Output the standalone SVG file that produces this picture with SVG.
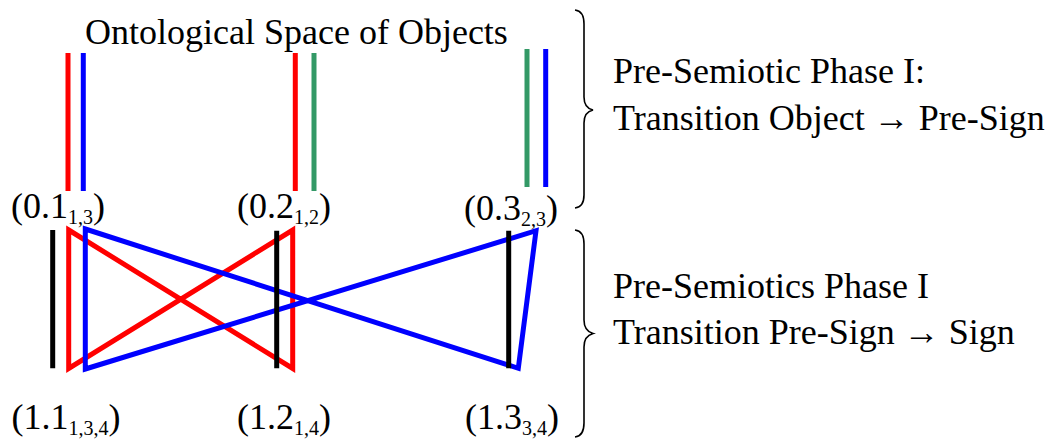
<svg xmlns="http://www.w3.org/2000/svg" width="1054" height="443" viewBox="0 0 1054 443">
<style>
text{font-family:"Liberation Serif","DejaVu Serif",serif;font-size:36px;fill:#000}
.sub{font-size:20px}
.ln{fill:none;stroke-width:5;stroke-linecap:butt;stroke-linejoin:miter}
.r{stroke:#FF0000}
.b{stroke:#0000FF}
.g{stroke:#339966}
.k{stroke:#000}
.brace{fill:none;stroke:#000;stroke-width:1.6}
</style>
<rect width="1054" height="443" fill="#fff"/>
<g id="title"><text x="85" y="44">Ontological Space of Objects</text></g>
<g id="connectors">
<line class="ln r" x1="68" y1="53" x2="68" y2="191"/>
<line class="ln b" x1="83.3" y1="53" x2="83.3" y2="191"/>
<line class="ln r" x1="295.3" y1="53" x2="295.3" y2="191"/>
<line class="ln g" x1="314" y1="53" x2="314" y2="191"/>
<line class="ln g" x1="527" y1="49" x2="527" y2="187"/>
<line class="ln b" x1="545.7" y1="49" x2="545.7" y2="187"/>
<polygon class="ln r" points="68.7,230 292.7,368.5 292.7,230 68.7,368.5"/>
<polygon class="ln b" points="85.3,229 518.3,368.3 536,230.7 85.3,369"/>
</g>
<g id="node-0-1"><text x="11" y="218">(0.1<tspan class="sub" dy="6">1,3</tspan><tspan dy="-6">)</tspan></text></g>
<g id="node-0-2"><text x="237" y="218">(0.2<tspan class="sub" dy="6">1,2</tspan><tspan dy="-6">)</tspan></text></g>
<g id="node-0-3"><text x="464" y="220">(0.3<tspan class="sub" dy="6">2,3</tspan><tspan dy="-6">)</tspan></text></g>
<g id="node-1-1"><line class="ln k" x1="52.7" y1="230" x2="52.7" y2="368.3"/><text x="11.5" y="429">(1.1<tspan class="sub" dy="6">1,3,4</tspan><tspan dy="-6">)</tspan></text></g>
<g id="node-1-2"><line class="ln k" x1="276.7" y1="230.7" x2="276.7" y2="368.3"/><text x="237" y="429">(1.2<tspan class="sub" dy="6">1,4</tspan><tspan dy="-6">)</tspan></text></g>
<g id="node-1-3"><line class="ln k" x1="508.7" y1="230.7" x2="508.7" y2="368.3"/><text x="465" y="429">(1.3<tspan class="sub" dy="6">3,4</tspan><tspan dy="-6">)</tspan></text></g>
<g id="phase-1">
<path class="brace" d="M575,10 Q584,11 584,24 L584,97 Q584,108 593,110 Q584,112 584,123 L584,195 Q584,207 575,208"/>
<text x="613" y="83">Pre-Semiotic Phase I:</text>
<text x="613" y="129.5">Transition Object → Pre-Sign</text>
</g>
<g id="phase-2">
<path class="brace" d="M575,230 Q584,231 584,244 L584,320 Q584,331 593,333.5 Q584,336 584,347 L584,423 Q584,436 575,437"/>
<text x="613" y="298">Pre-Semiotics Phase I</text>
<text x="613" y="344">Transition Pre-Sign → Sign</text>
</g>
</svg>
